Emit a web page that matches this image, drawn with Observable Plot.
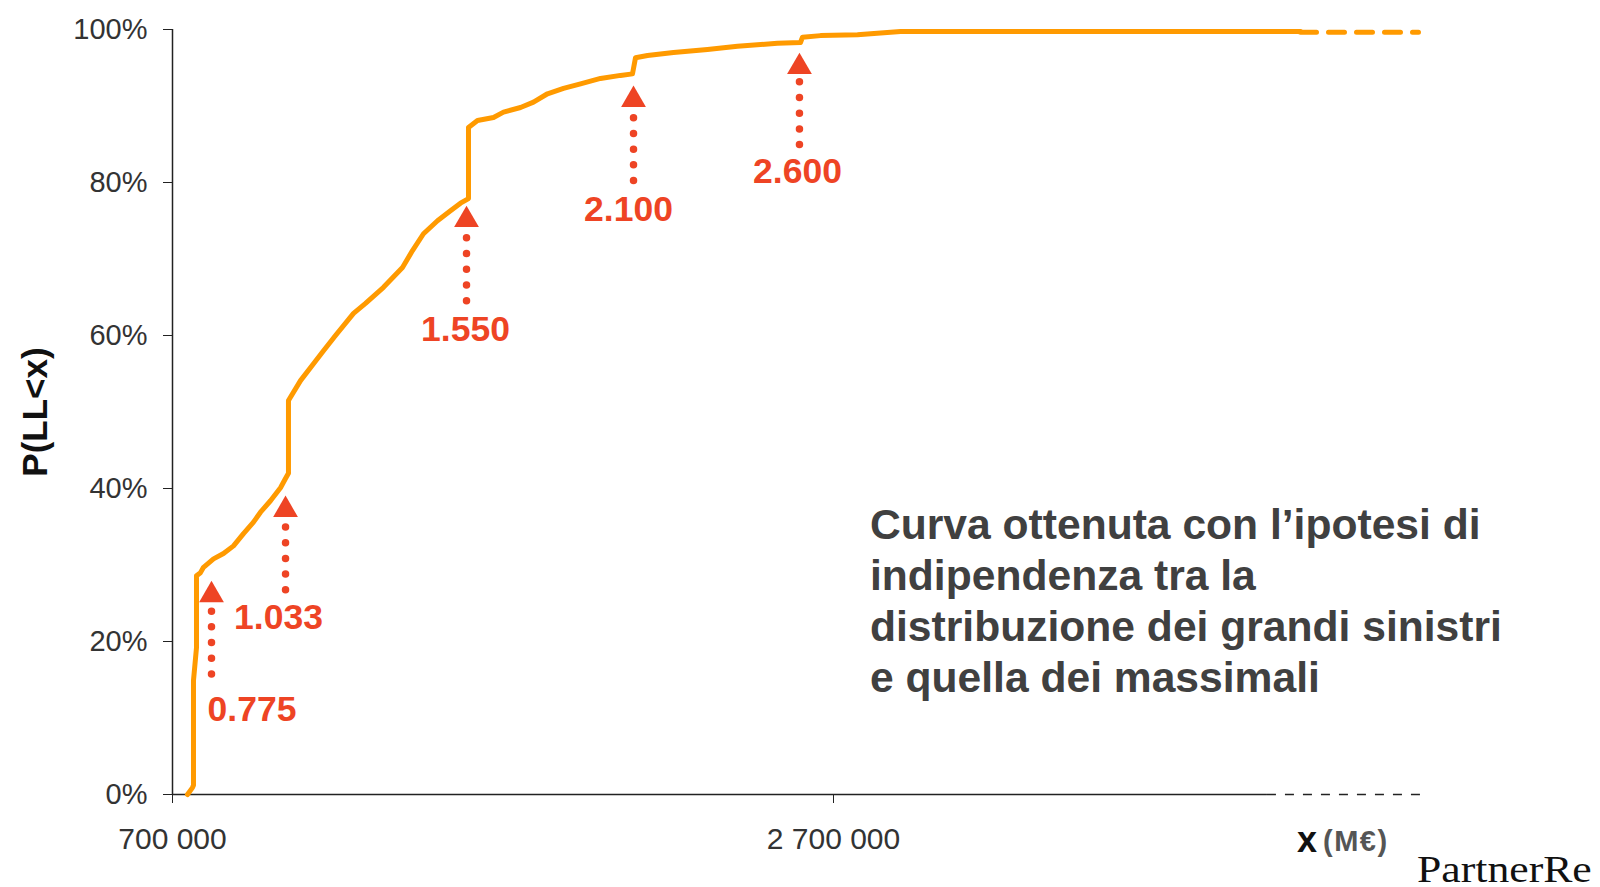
<!DOCTYPE html>
<html>
<head>
<meta charset="utf-8">
<script src="https://cdn.jsdelivr.net/npm/d3@7"></script>
<script src="https://cdn.jsdelivr.net/npm/@observablehq/plot@0.6"></script>
<style>
  html, body { margin: 0; padding: 0; background: #fff; overflow: hidden; }
  #wrap { position: relative; width: 1600px; height: 887px; font-family: "Liberation Sans", Arial, sans-serif; }
  #note { position: absolute; left: 870px; top: 499px; font-size: 42.6px; line-height: 51px; font-weight: bold; color: #404040; white-space: nowrap; }
  #ylab { position: absolute; left: 35px; top: 412px; transform: translate(-50%, -50%) rotate(-90deg); font-size: 35px; font-weight: bold; color: #111; white-space: nowrap; }
  #xlab1 { position: absolute; left: 1297px; top: 822px; font-size: 36px; line-height: 36px; font-weight: bold; color: #111; }
  #xlab2 { position: absolute; left: 1323px; top: 827px; font-size: 29px; line-height: 29px; font-weight: bold; color: #555; letter-spacing: 1.5px; }
  #logo { position: absolute; left: 1417px; top: 850px; font-family: "Liberation Serif", "Times New Roman", serif; font-size: 38px; line-height: 38px; color: #111; transform: scaleX(1.15); transform-origin: left center; white-space: nowrap; }
</style>
</head>
<body>
<div id="wrap">
  <div id="chart"></div>
  <div id="ylab">P(LL&lt;x)</div>
  <div id="note">Curva ottenuta con l’ipotesi di<br>indipendenza tra la<br>distribuzione dei grandi sinistri<br>e quella dei massimali</div>
  <div id="xlab1">x</div>
  <div id="xlab2">(M€)</div>
  <div id="logo">PartnerRe</div>
</div>
<script>
// Empirical CDF curve (x in €, P(LL<x))
const curveX = [745400, 760500, 763500, 763500, 772600, 772600, 784700, 793800, 824100, 854300, 884600, 914800, 945100, 966300, 996500, 1026800, 1041900, 1050900, 1050900, 1087300, 1126600, 1156900, 1193200, 1247700, 1284000, 1338400, 1395900, 1426200, 1459400, 1501800, 1541100, 1571400, 1595600, 1595600, 1622800, 1671300, 1701500, 1753000, 1792300, 1834600, 1883000, 1934500, 1995000, 2055500, 2091800, 2100900, 2137200, 2215900, 2318700, 2409500, 2530500, 2600100, 2606200, 2660700, 2772600, 2902700, 4113000];
const curveP = [0, 0.009, 0.012, 0.149, 0.192, 0.286, 0.290, 0.297, 0.308, 0.315, 0.325, 0.341, 0.356, 0.369, 0.384, 0.401, 0.413, 0.420, 0.515, 0.541, 0.563, 0.580, 0.600, 0.629, 0.642, 0.663, 0.689, 0.711, 0.733, 0.750, 0.763, 0.773, 0.779, 0.872, 0.881, 0.885, 0.892, 0.898, 0.905, 0.916, 0.923, 0.929, 0.936, 0.940, 0.942, 0.963, 0.966, 0.970, 0.974, 0.978, 0.982, 0.983, 0.990, 0.992, 0.993, 0.9974, 0.9974];
// dashed continuation of the curve
const tailX = [4113000, 4470000];
const tailP = [0.9965, 0.9965];

// Annotated quantiles
const arrowX = [818000, 1042000, 1589600, 2094900, 2597000];
const arrowTip = [0.2797, 0.391, 0.770, 0.927, 0.970];
const stemTop = [0.239, 0.349, 0.727, 0.884, 0.931];
const stemBottom = [0.154, 0.263, 0.641, 0.798, 0.844];
const labelText = ["0.775", "1.033", "1.550", "2.100", "2.600"];
const labelX = [940500, 1020700, 1586500, 2079700, 2591000];
const labelP = [0.1105, 0.2307, 0.6072, 0.7641, 0.8144];

// Axis ticks
const xTicks = [700000, 2700000];
const yTicks = [0, 0.2, 0.4, 0.6, 0.8, 1];
const xAxisSolidEnd = 4013000;
const xAxisDashedEnd = 4500000;

const curve = curveX.map((x, i) => ({x, p: curveP[i]}));
const tail = tailX.map((x, i) => ({x, p: tailP[i]}));
const arrows = arrowX.map((x, i) => ({x, tip: arrowTip[i], top: stemTop[i], bottom: stemBottom[i]}));
const labels = labelText.map((t, i) => ({t, x: labelX[i], p: labelP[i]}));

const RED = "#EE4424";
const ORANGE = "#FF9A00";

const chart = Plot.plot({
  width: 1600,
  height: 887,
  marginLeft: 172,
  marginRight: 106,
  marginTop: 29,
  marginBottom: 93,
  style: {fontFamily: "'Liberation Sans', Arial, sans-serif", color: "#333", background: "#fff", overflow: "visible"},
  x: {domain: [700000, 4700000]},
  y: {domain: [0, 1]},
  marks: [
    Plot.ruleY([0], {x1: 700000, x2: xAxisSolidEnd, stroke: "#222", strokeWidth: 1.5}),
    Plot.ruleY([0], {x1: xAxisSolidEnd, x2: xAxisDashedEnd, stroke: "#222", strokeWidth: 1.5, strokeDasharray: "9,9"}),
    Plot.ruleX([700000], {y1: 0, y2: 1, stroke: "#222", strokeWidth: 1.5}),
    Plot.axisY({ticks: yTicks, tickFormat: d3.format(".0%"), tickSize: 9, tickPadding: 16, fontSize: 29, label: null, stroke: "#222"}),
    Plot.axisX({ticks: xTicks, tickFormat: d => d3.format(",")(d).replace(/,/g, " "), tickSize: 9, tickPadding: 24, fontSize: 30, label: null, stroke: "#222"}),
    Plot.line(tail, {x: "x", y: "p", stroke: ORANGE, strokeWidth: 5, strokeDasharray: "16,12"}),
    Plot.line(curve, {x: "x", y: "p", stroke: ORANGE, strokeWidth: 5, strokeLinejoin: "round"}),
    Plot.ruleX(arrows, {x: "x", y1: "top", y2: "bottom", stroke: RED, strokeWidth: 7.5, strokeDasharray: "0,15.7", strokeLinecap: "round"}),
    Plot.dot(arrows, {x: "x", y: "tip", symbol: "triangle", r: 9.2, fill: RED, stroke: "none", dy: 14.5}),
    Plot.text(labels, {x: "x", y: "p", text: "t", fill: RED, fontSize: 35.5, fontWeight: "bold", textAnchor: "middle"})
  ]
});
document.getElementById("chart").appendChild(chart);
</script>
</body>
</html>
